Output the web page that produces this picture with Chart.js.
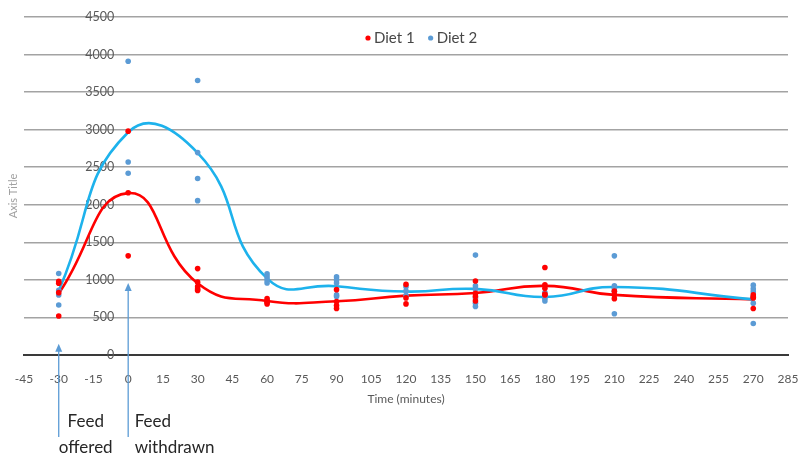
<!DOCTYPE html>
<html>
<head>
<meta charset="utf-8">
<script src="https://cdn.jsdelivr.net/npm/chart.js@4.4.1/dist/chart.umd.min.js"></script>
<style>
  html, body { margin: 0; padding: 0; background: #ffffff; }
  #wrap { width: 798px; height: 455px; position: relative; }
</style>
</head>
<body>
<div id="wrap"><canvas id="chart"></canvas></div>
<script>
// Sampling times (minutes relative to feed withdrawal)
const times = [-30, 0, 30, 60, 90, 120, 150, 180, 210, 270];

// Group means, traced by the smoothed lines
const diet1Mean = [820, 2155, 955, 720, 715, 790, 825, 920, 800, 740];
const diet2Mean = [855, 2965, 2690, 1020, 915, 845, 880, 772, 906, 740];

// Individual observations: [time, value]
const diet1Obs = [
  [-30, 980], [-30, 955], [-30, 830], [-30, 520],
  [0, 2980], [0, 2160], [0, 1320],
  [30, 1150], [30, 970], [30, 910], [30, 880], [30, 860],
  [60, 750], [60, 720], [60, 700], [60, 680],
  [90, 870], [90, 710], [90, 660], [90, 620],
  [120, 940], [120, 760], [120, 680],
  [150, 985], [150, 820], [150, 780], [150, 720],
  [180, 1165], [180, 935], [180, 890], [180, 810], [180, 800],
  [210, 850], [210, 800], [210, 750],
  [270, 800], [270, 770], [270, 760], [270, 620]
];
const diet2Obs = [
  [-30, 1085], [-30, 860], [-30, 800], [-30, 665],
  [0, 3910], [0, 2570], [0, 2420],
  [30, 3655], [30, 2695], [30, 2350], [30, 2055],
  [60, 1080], [60, 1040], [60, 1000], [60, 960],
  [90, 1040], [90, 1000], [90, 960], [90, 800], [90, 780],
  [120, 910], [120, 850], [120, 790],
  [150, 1330], [150, 920], [150, 880], [150, 760], [150, 690], [150, 645],
  [180, 830], [180, 785], [180, 755], [180, 720],
  [210, 1320], [210, 920], [210, 890], [210, 850], [210, 550],
  [270, 930], [270, 880], [270, 840], [270, 780], [270, 690], [270, 420]
];

// Axis ranges and tick spacing
const xRange = [-45, 285];
const xStep = 15;
const yRange = [0, 4500];
const yStep = 500;

// Feeding events marked under the time axis
const eventTimes = [-30, 0];
const eventArrowTips = [150, 960];
const eventLabels = [['Feed', 'offered'], ['Feed', 'withdrawn']];

const seriesNames = ['Diet 1', 'Diet 2'];
const axisTitles = { x: 'Time (minutes)', y: 'Axis Title' };

const RED = '#ff0000';
const BLUE_PTS = '#5b9bd5';
const BLUE_LINE = '#1db2ec';
const FONT = 'Lato, "Liberation Sans", sans-serif';

const toXY = arr => arr.map(([x, y]) => ({ x, y }));
const pairUp = (xs, ys) => xs.map((x, i) => ({ x, y: ys[i] }));

// Legend drawn inside the plot, and the two feeding-event arrows with captions
const overlay = {
  id: 'overlay',
  afterDraw(chart) {
    const { ctx, chartArea, scales } = chart;
    ctx.save();

    // legend
    const items = chart.data.datasets.filter(d => d.isObs);
    ctx.font = '15px ' + FONT;
    ctx.textBaseline = 'middle';
    let lx = (chartArea.left + chartArea.right) / 2 - 38;
    const ly = chartArea.top + 21;
    items.forEach(d => {
      ctx.fillStyle = d.backgroundColor;
      ctx.beginPath();
      ctx.arc(lx, ly, 2.6, 0, Math.PI * 2);
      ctx.fill();
      ctx.fillStyle = '#474747';
      ctx.textAlign = 'left';
      ctx.fillText(d.label, lx + 6, ly);
      lx += 6 + ctx.measureText(d.label).width + 16;
    });

    // rotated y-axis title
    ctx.save();
    ctx.translate(13, (chartArea.top + chartArea.bottom) / 2 + 10);
    ctx.rotate(-Math.PI / 2);
    ctx.font = '11px ' + FONT;
    ctx.fillStyle = '#a0a0a0';
    ctx.textAlign = 'center';
    ctx.textBaseline = 'middle';
    ctx.fillText(axisTitles.y, 0, 0);
    ctx.restore();

    // event arrows and captions
    const baseY = chartArea.bottom + 82;
    eventTimes.forEach((t, i) => {
      const x = scales.x.getPixelForValue(t);
      const tipY = scales.y.getPixelForValue(eventArrowTips[i]);
      ctx.strokeStyle = BLUE_PTS;
      ctx.fillStyle = BLUE_PTS;
      ctx.lineWidth = 1.3;
      ctx.beginPath();
      ctx.moveTo(x, baseY);
      ctx.lineTo(x, tipY + 6);
      ctx.stroke();
      ctx.beginPath();
      ctx.moveTo(x, tipY);
      ctx.lineTo(x - 3.5, tipY + 8);
      ctx.lineTo(x + 3.5, tipY + 8);
      ctx.closePath();
      ctx.fill();

      ctx.font = '17px ' + FONT;
      ctx.fillStyle = '#262626';
      ctx.textBaseline = 'middle';
      const lines = eventLabels[i];
      if (i === 0) {
        ctx.textAlign = 'center';
        lines.forEach((s, k) => ctx.fillText(s, x + 27, chartArea.bottom + 67 + k * 26));
      } else {
        ctx.textAlign = 'left';
        lines.forEach((s, k) => ctx.fillText(s, x + 6.5, chartArea.bottom + 67 + k * 26));
      }
    });
    ctx.restore();
  }
};

new Chart(document.getElementById('chart'), {
  type: 'scatter',
  data: {
    datasets: [
      {
        label: seriesNames[0] + ' mean',
        data: pairUp(times, diet1Mean),
        showLine: true,
        borderColor: RED,
        borderWidth: 2.6,
        tension: 0.5,
        pointRadius: 0,
        order: 4
      },
      {
        label: seriesNames[1] + ' mean',
        data: pairUp(times, diet2Mean),
        showLine: true,
        borderColor: BLUE_LINE,
        borderWidth: 2.6,
        tension: 0.5,
        pointRadius: 0,
        order: 3
      },
      {
        label: seriesNames[0],
        isObs: true,
        data: toXY(diet1Obs),
        backgroundColor: RED,
        borderWidth: 0,
        pointRadius: 2.8,
        order: 1
      },
      {
        label: seriesNames[1],
        isObs: true,
        data: toXY(diet2Obs),
        backgroundColor: BLUE_PTS,
        borderWidth: 0,
        pointRadius: 2.8,
        order: 2
      }
    ]
  },
  options: {
    responsive: true,
    maintainAspectRatio: false,
    animation: false,
    layout: { padding: { top: 17, left: 24, right: 10, bottom: 0 } },
    plugins: {
      legend: { display: false },
      tooltip: { enabled: false }
    },
    scales: {
      x: {
        type: 'linear',
        min: xRange[0],
        max: xRange[1],
        afterFit(scale) {
          scale.height = 100;
          scale.paddingLeft = 0;
          scale.paddingRight = 0;
        },
        ticks: {
          stepSize: xStep,
          autoSkip: false,
          maxRotation: 0,
          padding: 17,
          color: '#595959',
          font: { family: FONT, size: 12 }
        },
        grid: { display: false, drawTicks: false },
        border: { display: true, color: '#3a3a3a', width: 2 },
        title: {
          display: true,
          text: axisTitles.x,
          color: '#595959',
          font: { family: FONT, size: 12 },
          padding: { top: 4, bottom: 49 }
        }
      },
      y: {
        type: 'linear',
        // vertical axis crosses the time axis just left of t = 0
        position: { x: -6 },
        min: yRange[0],
        max: yRange[1],
        afterFit(scale) {
          scale.paddingTop = 0;
          scale.paddingBottom = 0;
        },
        ticks: {
          stepSize: yStep,
          color: '#595959',
          font: { family: FONT, size: 12.5 },
          callback: v => String(v)
        },
        grid: { color: '#a3a3a3', lineWidth: 1.6, drawTicks: false },
        border: { display: false }
      }
    }
  },
  plugins: [overlay]
});
</script>
</body>
</html>
